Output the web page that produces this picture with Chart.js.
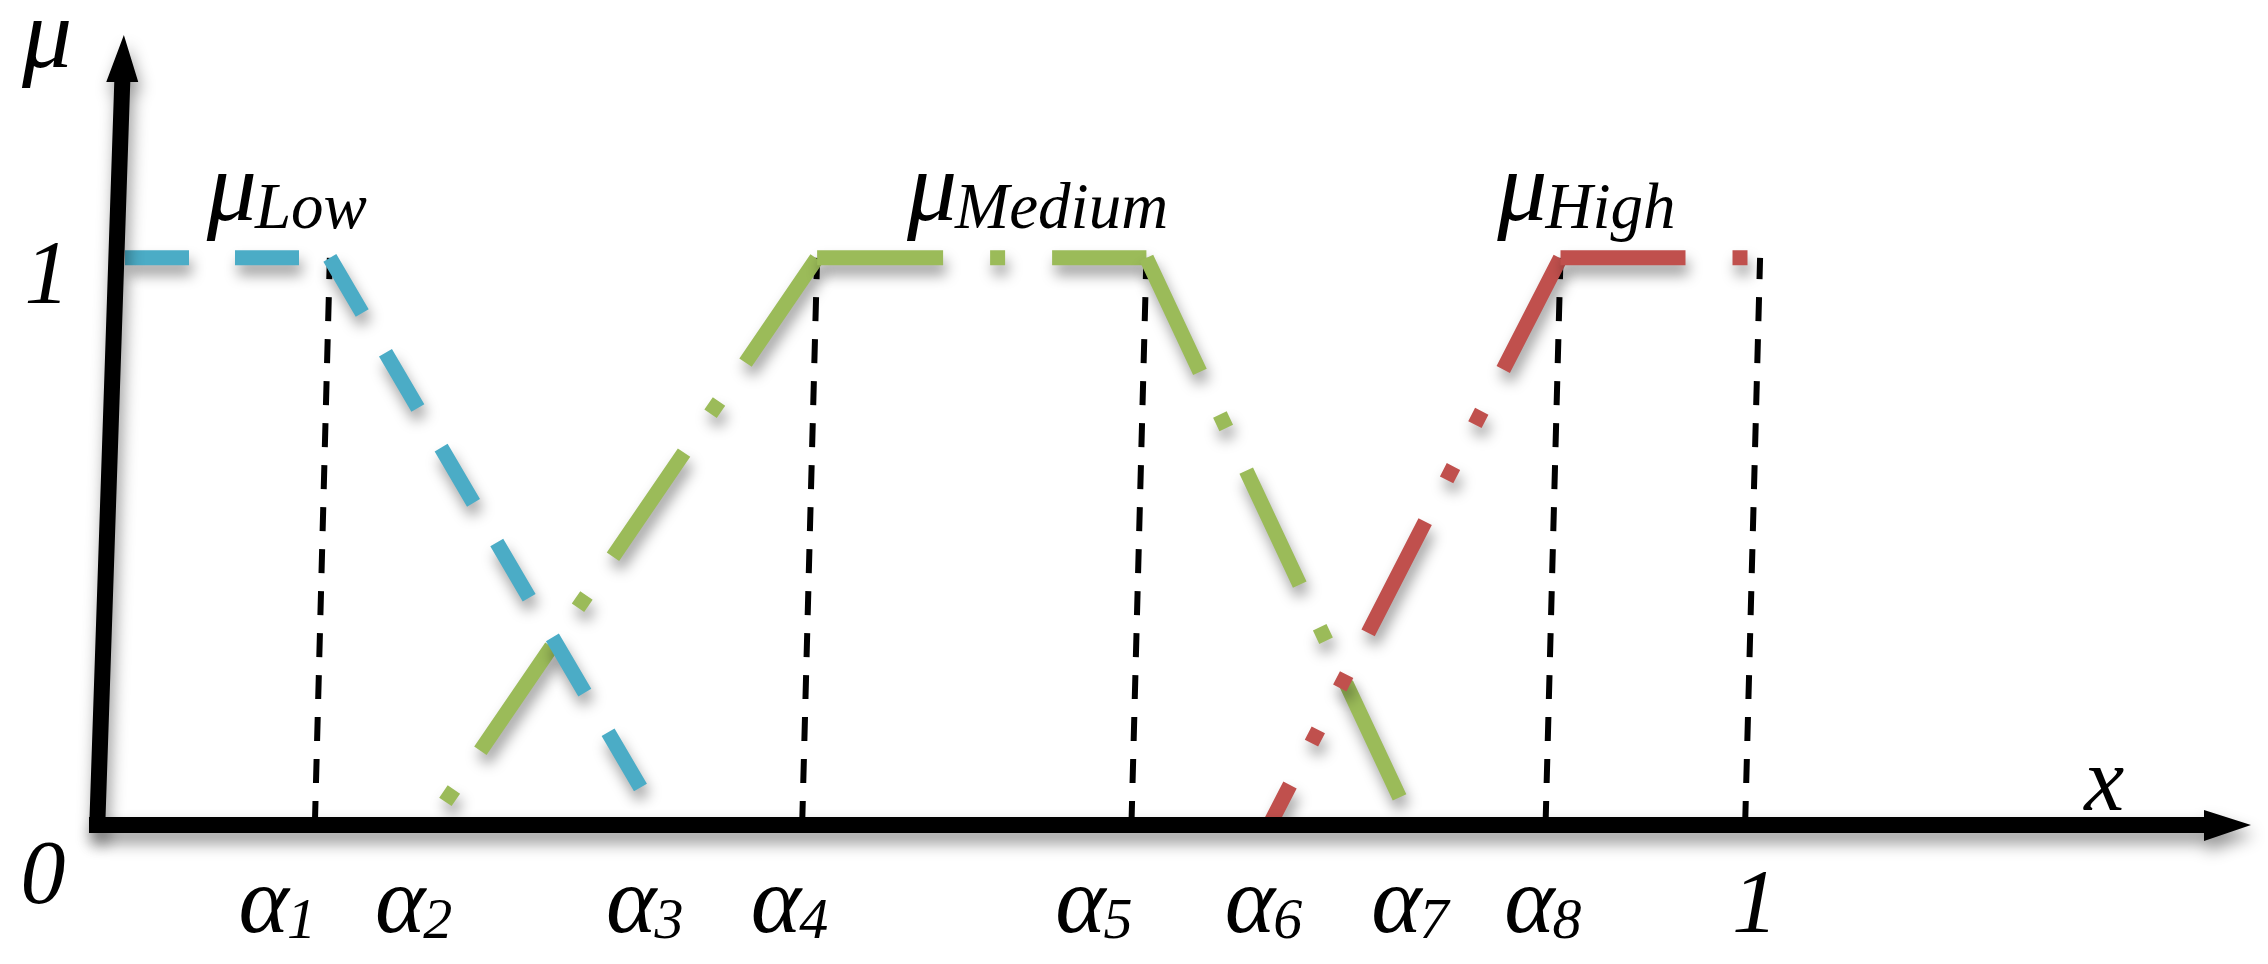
<!DOCTYPE html>
<html lang="en">
<head>
<meta charset="UTF-8">
<title>Low / Medium / High membership functions</title>
<script src="https://cdn.jsdelivr.net/npm/chart.js"></script>
<style>
    body { margin: 0; background: #fff; }
    #wrap { width: 2268px; height: 964px; }
</style>
</head>
<body>
<div id="wrap"><canvas id="fuzzyChart" width="2268" height="964"></canvas></div>
<script>
    // breakpoints alpha1..alpha8 on the x axis (x runs 0..1)
    const alphas = [0.140, 0.200, 0.340, 0.433, 0.631, 0.705, 0.791, 0.880];

    // corners of the three membership functions
    const lowX = [0, alphas[0], alphas[2]];
    const lowMu = [1, 1, 0];
    const mediumX = [alphas[1], alphas[3], alphas[4], alphas[6]];
    const mediumMu = [0, 1, 1, 0];
    const highX = [alphas[5], alphas[7], 1];
    const highMu = [0, 1, 1];

    // dashed drop lines from mu = 1 down to the axis
    const guideX = [alphas[0], alphas[3], alphas[4], alphas[7], 1];

    // tick labels under the x axis
    const tickMain = ['α', 'α', 'α', 'α', 'α', 'α', 'α', 'α', '1'];
    const tickSub = ['1', '2', '3', '4', '5', '6', '7', '8', ''];
    const tickX = [0.109, 0.191, 0.330, 0.417, 0.600, 0.702, 0.790, 0.870, 0.997];

    const seriesNames = ['Low', 'Medium', 'High'];
    const seriesLabelX = [0.066, 0.487, 0.842];

    const colors = { low: '#4BACC6', medium: '#9BBB59', high: '#C0504D' };

    // dash phase at the start of every segment, so each piece starts at its corner
    const lowDashStart = [-28, 0];
    const mediumDashStart = [145, 0, 235];
    const highDashStart = [80, 0];

    const guideLean = 0.009;
    const axisLean = 0.034;
    const serif = "'Liberation Serif'";

    function points(xs, ys) {
        return xs.map((v, i) => ({ x: v, y: ys[i] }));
    }

    function memberSet(label, xs, ys, color, dash, starts) {
        return {
            label: label,
            data: points(xs, ys),
            borderColor: color,
            borderWidth: 15,
            borderDash: dash,
            borderCapStyle: 'butt',
            borderJoinStyle: 'miter',
            pointRadius: 0,
            fill: false,
            shadow: true,
            segment: {
                borderDashOffset: ctx => starts[ctx.p0DataIndex]
            }
        };
    }

    const guideSets = guideX.map(g => ({
        label: 'guide',
        data: [{ x: g - guideLean, y: 0 }, { x: g, y: 1 }],
        borderColor: '#000',
        borderWidth: 6,
        borderDash: [24, 18],
        borderCapStyle: 'butt',
        pointRadius: 0,
        fill: false
    }));

    const shadowPlugin = {
        id: 'softShadow',
        beforeDatasetDraw(chart, args) {
            if (!chart.data.datasets[args.index].shadow) return;
            const ctx = chart.ctx;
            ctx.save();
            ctx.shadowColor = 'rgba(0, 0, 0, 0.38)';
            ctx.shadowBlur = 14;
            ctx.shadowOffsetX = 3;
            ctx.shadowOffsetY = 10;
        },
        afterDatasetDraw(chart, args) {
            if (!chart.data.datasets[args.index].shadow) return;
            chart.ctx.restore();
        }
    };

    const axesPlugin = {
        id: 'arrowAxes',
        afterDatasetsDraw(chart) {
            const { ctx, chartArea, scales: { x, y } } = chart;
            const x0 = x.getPixelForValue(0);
            const y0 = y.getPixelForValue(0);
            const half = 8;
            ctx.save();
            ctx.fillStyle = '#000';
            ctx.shadowColor = 'rgba(0, 0, 0, 0.42)';
            ctx.shadowBlur = 16;
            ctx.shadowOffsetX = 3;
            ctx.shadowOffsetY = 10;

            // horizontal axis with arrow head
            const tip = chartArea.right - 8;
            const headLen = 47;
            ctx.beginPath();
            ctx.moveTo(x0 - half, y0 - half);
            ctx.lineTo(tip - headLen, y0 - half);
            ctx.lineTo(tip - headLen, y0 - 15);
            ctx.lineTo(tip, y0);
            ctx.lineTo(tip - headLen, y0 + 16);
            ctx.lineTo(tip - headLen, y0 + half);
            ctx.lineTo(x0 - half, y0 + half);
            ctx.closePath();
            ctx.fill();

            // leaning vertical axis with arrow head
            const top = chartArea.top + 4;
            const headY = top + 47;
            const tipX = x0 + axisLean * (y0 - top);
            const baseX = x0 + axisLean * (y0 - headY);
            ctx.beginPath();
            ctx.moveTo(x0 - half, y0 + half);
            ctx.lineTo(x0 + half, y0 + half);
            ctx.lineTo(baseX + half, headY);
            ctx.lineTo(baseX + 16, headY);
            ctx.lineTo(tipX, top);
            ctx.lineTo(baseX - 16, headY);
            ctx.lineTo(baseX - half, headY);
            ctx.closePath();
            ctx.fill();
            ctx.restore();
        }
    };

    const textPlugin = {
        id: 'mathLabels',
        afterDraw(chart) {
            const { ctx, scales: { x, y } } = chart;
            const x0 = x.getPixelForValue(0);
            const y0 = y.getPixelForValue(0);
            const y1 = y.getPixelForValue(1);
            ctx.save();
            ctx.fillStyle = '#000';
            ctx.textBaseline = 'alphabetic';

            // axis names and the two marks at the ends of the unit
            ctx.textAlign = 'center';
            ctx.font = 'italic 100px ' + serif;
            ctx.fillText('μ', x0 - 50, 67);
            ctx.font = 'italic 90px ' + serif;
            ctx.fillText('1', x0 - 50, y1 + 45);
            ctx.fillText('0', x0 - 54, y0 + 78);
            ctx.fillText('x', x.getPixelForValue(1.207), y0 - 15);

            // x tick labels, alpha with an italic subscript
            ctx.textAlign = 'left';
            tickMain.forEach((main, i) => {
                const cx = x.getPixelForValue(tickX[i]);
                const mainFont = tickSub[i] ? 'italic 96px ' + serif : 'italic 92px ' + serif;
                ctx.font = mainFont;
                const wMain = ctx.measureText(main).width;
                ctx.font = 'italic 58px ' + serif;
                const wSub = tickSub[i] ? ctx.measureText(tickSub[i]).width : 0;
                const left = cx - (wMain + wSub) / 2;
                ctx.font = mainFont;
                ctx.fillText(main, left, y0 + 107);
                if (tickSub[i]) {
                    ctx.font = 'italic 58px ' + serif;
                    ctx.fillText(tickSub[i], left + wMain - 2, y0 + 113);
                }
            });

            // mu_Low, mu_Medium, mu_High
            seriesNames.forEach((name, i) => {
                const left = x.getPixelForValue(seriesLabelX[i]);
                ctx.font = 'italic 100px ' + serif;
                const wMu = ctx.measureText('μ').width;
                ctx.fillText('μ', left, y1 - 38);
                ctx.font = 'italic 65px ' + serif;
                ctx.fillText(name, left + wMu - 2, y1 - 30);
            });
            ctx.restore();
        }
    };

    function drawChart() {
        new Chart(document.getElementById('fuzzyChart').getContext('2d'), {
            type: 'line',
            data: {
                datasets: [
                    memberSet('Low', lowX, lowMu, colors.low, [64, 46], lowDashStart),
                    memberSet('High', highX, highMu, colors.high, [125, 47, 15, 47, 15, 47], highDashStart),
                    memberSet('Medium', mediumX, mediumMu, colors.medium, [126, 47, 15, 47], mediumDashStart)
                ].concat(guideSets)
            },
            options: {
                responsive: false,
                animation: false,
                events: [],
                layout: { padding: { left: 97, right: 9, top: 31, bottom: 139 } },
                scales: {
                    x: { type: 'linear', min: 0, max: 1.3, display: false },
                    y: { type: 'linear', min: 0, max: 1.4, display: false }
                },
                elements: { line: { tension: 0 } },
                plugins: {
                    legend: { display: false },
                    tooltip: { enabled: false }
                }
            },
            plugins: [shadowPlugin, axesPlugin, textPlugin]
        });
    }

    document.fonts.load('italic 96px ' + serif, 'μαx01').then(drawChart, drawChart);
</script>
</body>
</html>
